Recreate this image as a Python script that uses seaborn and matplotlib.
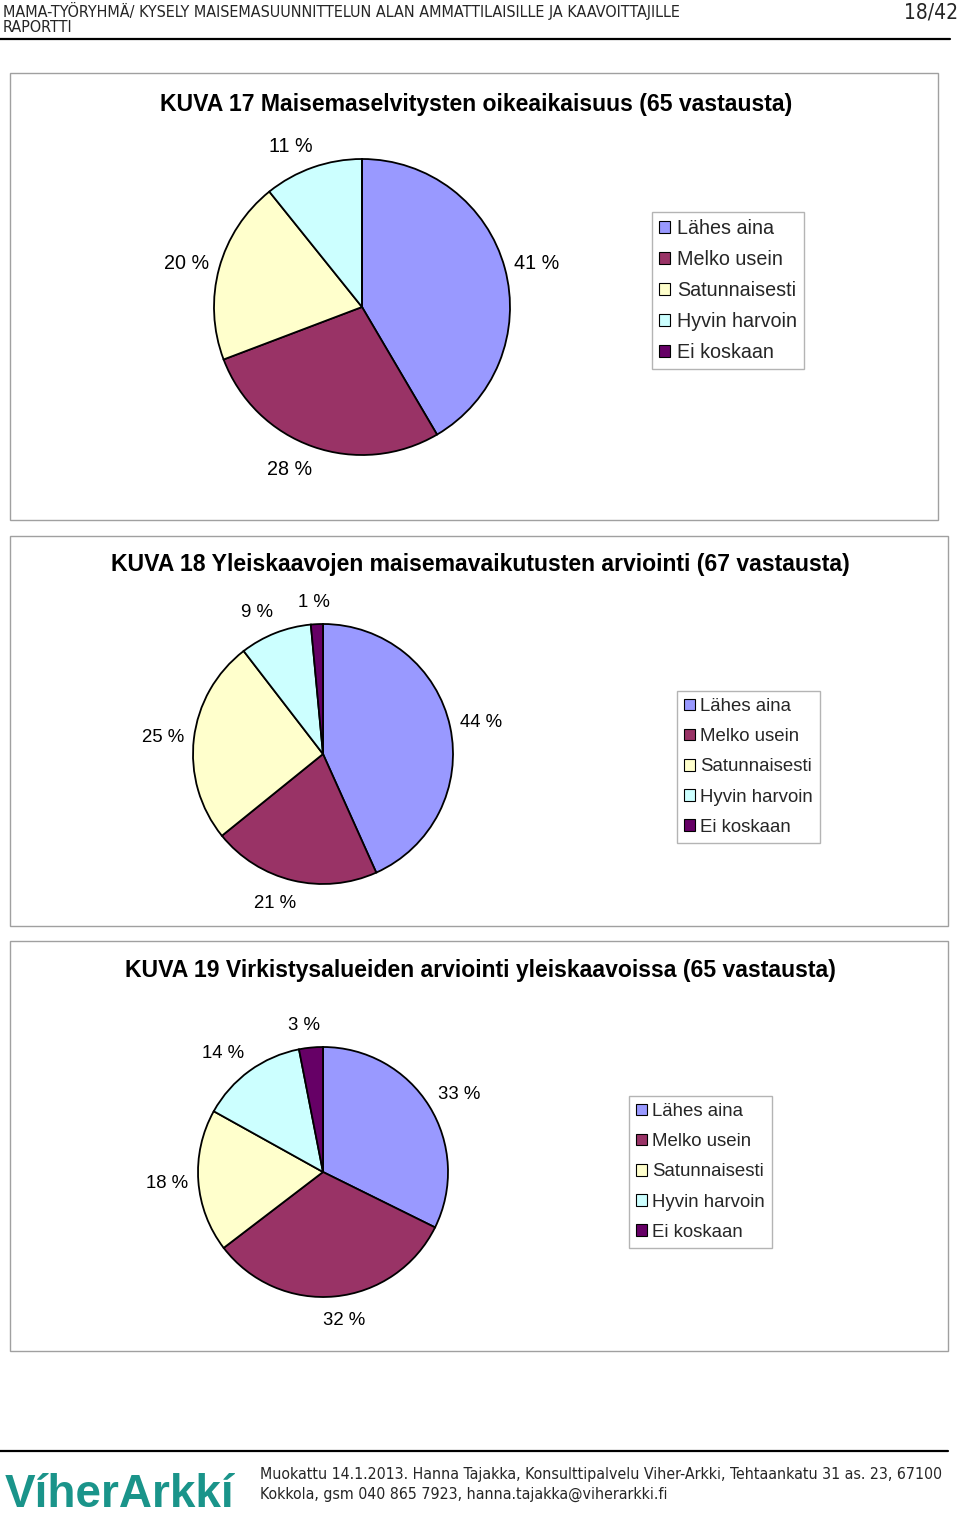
import matplotlib
matplotlib.use('Agg')
import numpy as np
import matplotlib.pyplot as plt
import seaborn as sns
from matplotlib.patches import Rectangle, Patch
from matplotlib.lines import Line2D

# answer categories (legend) and the three surveys
categories = ['Lähes aina', 'Melko usein', 'Satunnaisesti', 'Hyvin harvoin', 'Ei koskaan']
# answer counts
kuva17_counts = [27, 18, 13, 7, 0]
kuva18_counts = [29, 14, 17, 6, 1]
kuva19_counts = [21, 21, 12, 9, 2]
# percentage labels as printed in the report
kuva17_labels = ['41 %', '28 %', '20 %', '11 %', '']
kuva18_labels = ['44 %', '21 %', '25 %', '9 %', '1 %']
kuva19_labels = ['33 %', '32 %', '18 %', '14 %', '3 %']
titles = ['KUVA 17 Maisemaselvitysten oikeaikaisuus (65 vastausta)',
          'KUVA 18 Yleiskaavojen maisemavaikutusten arviointi (67 vastausta)',
          'KUVA 19 Virkistysalueiden arviointi yleiskaavoissa (65 vastausta)']
colors = ['#9999FF', '#993366', '#FFFFCC', '#CCFFFF', '#660066']

header_1 = 'MAMA-TYÖRYHMÄ/ KYSELY MAISEMASUUNNITTELUN ALAN AMMATTILAISILLE JA KAAVOITTAJILLE'
header_2 = 'RAPORTTI'
page_no = '18/42'
footer_1 = 'Muokattu 14.1.2013. Hanna Tajakka, Konsulttipalvelu Viher-Arkki, Tehtaankatu 31 as. 23, 67100'
footer_2 = 'Kokkola, gsm 040 865 7923, hanna.tajakka@viherarkki.fi'
logo = 'VíherArkkí'

sns.set_theme(style='white')
plt.rcParams['font.family'] = ['Liberation Sans', 'DejaVu Sans']

W, H = 960, 1524
fig = plt.figure(figsize=(9.6, 15.24), dpi=100)
fig.patch.set_facecolor('white')
renderer = fig.canvas.get_renderer()


def fx(x):
    return x / W


def fy(y):
    return 1 - y / H


# layout of the three panels (pixels)
panels = [
    dict(counts=kuva17_counts, labels=kuva17_labels, box=(10, 73, 938, 520),
         title_xy=(476, 104), center=(362, 307), r=148, legend_xy=(652, 212),
         fs=14.2, lsp=0.61, bpad=0.35, htp=0.35),
    dict(counts=kuva18_counts, labels=kuva18_labels, box=(10, 536, 948, 926),
         title_xy=(480, 564), center=(323, 754), r=130, legend_xy=(677, 691),
         fs=13.4, lsp=0.70, bpad=0.4, htp=0.3),
    dict(counts=kuva19_counts, labels=kuva19_labels, box=(10, 941, 948, 1351),
         title_xy=(480, 971), center=(323, 1172), r=125, legend_xy=(629, 1096),
         fs=13.4, lsp=0.70, bpad=0.4, htp=0.3),
]

k = 1.45
gap = 10      # px between pie edge and label box
half_h = 13   # px, half label height
for title, p in zip(titles, panels):
    x0, y0, x1, y1 = p['box']
    fig.add_artist(Rectangle((fx(x0), fy(y1)), fx(x1 - x0), (y1 - y0) / H,
                             transform=fig.transFigure, facecolor='white',
                             edgecolor='#a0a0a0', lw=1.0, zorder=0))
    fig.text(fx(p['title_xy'][0]), fy(p['title_xy'][1]), title, ha='center', va='center',
             fontsize=16.6, fontweight='bold', color='black')

    cx, cy = p['center']
    r = p['r']
    side = 2 * k * r
    ax = fig.add_axes([fx(cx - side / 2), fy(cy + side / 2), side / W, side / H])
    wedges, _ = ax.pie(p['counts'], colors=colors, startangle=90, counterclock=False,
                       radius=1, wedgeprops=dict(edgecolor='black', linewidth=1.3))
    ax.set_xlim(-k, k)
    ax.set_ylim(-k, k)
    ax.set_aspect('equal')
    ax.axis('off')

    # labels outside the slices, pushed out by half their size (like Excel "outside end")
    for w, lab in zip(wedges, p['labels']):
        if not lab:
            continue
        mid = np.deg2rad((w.theta1 + w.theta2) / 2)
        c, s = np.cos(mid), np.sin(mid)
        t = ax.text(0, 0, lab, ha='center', va='center', fontsize=p['fs'], color='black')
        half_w = t.get_window_extent(renderer).width / 2
        d = 1 + gap / r
        t.set_position((d * c + half_w * np.tanh(4 * c) / r,
                        d * s + (half_h * s - 1) / r))

    handles = [Patch(facecolor=c, edgecolor='black', lw=0.8) for c in colors]
    fig.legend(handles, categories, loc='upper left',
               bbox_to_anchor=(fx(p['legend_xy'][0]), fy(p['legend_xy'][1])),
               bbox_transform=fig.transFigure, borderaxespad=0, frameon=True,
               fancybox=False, shadow=False, framealpha=1, edgecolor='#b4b4b4',
               fontsize=p['fs'], handlelength=0.55, handleheight=0.55,
               handletextpad=p['htp'], labelspacing=p['lsp'], borderpad=p['bpad'])

# page header
cond = dict(family='DejaVu Sans', fontstretch='condensed')
fig.text(fx(3), fy(11), header_1, ha='left', va='center', fontsize=11.5, **cond)
fig.text(fx(3), fy(28), header_2, ha='left', va='center', fontsize=11.5, **cond)
fig.text(fx(958), fy(12), page_no, ha='right', va='center', fontsize=15, **cond)
fig.add_artist(Line2D([0, fx(950)], [fy(39), fy(39)], transform=fig.transFigure,
                      color='black', lw=1.6))

# page footer
fig.add_artist(Line2D([0, fx(948)], [fy(1451), fy(1451)], transform=fig.transFigure,
                      color='black', lw=1.6))
fig.text(fx(5), fy(1507), logo, ha='left', va='baseline', fontsize=33,
         fontweight='bold', color='#1a948a', family='Liberation Sans')
fig.text(fx(260), fy(1475), footer_1, ha='left', va='center', fontsize=11.4, **cond)
fig.text(fx(260), fy(1494), footer_2, ha='left', va='center', fontsize=11.4, **cond)

fig.savefig('out.png', dpi=100, facecolor='white')
